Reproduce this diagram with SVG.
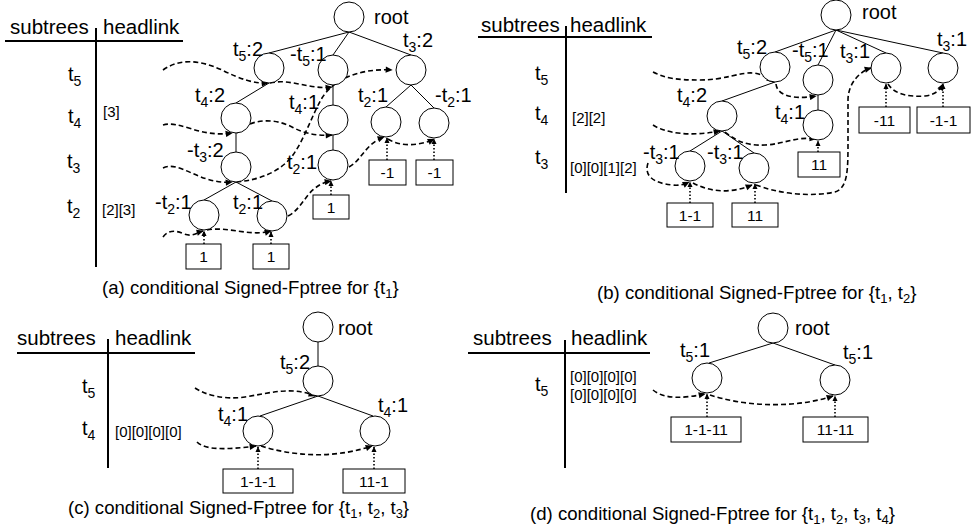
<svg xmlns="http://www.w3.org/2000/svg" width="973" height="532" viewBox="0 0 973 532">
  <style>
    text { font-family: "Liberation Sans", Arial, sans-serif; fill: #000; }
    .hdr { font-size: 20.5px; }
    .lbl { font-size: 20px; }
    .sub { font-size: 14px; }
    .hl { font-size: 15px; }
    .cap { font-size: 18.6px; }
    .csub { font-size: 13px; }
    .bx { font-size: 15.5px; text-anchor: middle; }
    .node circle { fill: #fff; stroke: #000; stroke-width: 1; }
    .box rect { fill: #fff; stroke: #000; stroke-width: 1; }
    .rule { stroke: #000; stroke-width: 2; fill: none; }
    .edge { stroke: #000; stroke-width: 1; fill: none; }
    .link { stroke: #000; stroke-width: 1.6; fill: none; stroke-dasharray: 5 3; marker-end: url(#ah); }
    .ptr { stroke: #000; stroke-width: 1.6; fill: none; stroke-dasharray: 1.5 2; marker-end: url(#ahs); }
  </style>
  <defs>
    <marker id="ah" viewBox="0 0 10 10" refX="9" refY="5" markerWidth="8" markerHeight="7" markerUnits="userSpaceOnUse" orient="auto">
      <path d="M0,0.5 L10,5 L0,9.5 z" fill="#000" stroke="none"/>
    </marker>
    <marker id="ahs" viewBox="0 0 10 10" refX="9" refY="5" markerWidth="6" markerHeight="6" markerUnits="userSpaceOnUse" orient="auto">
      <path d="M0,0.5 L10,5 L0,9.5 z" fill="#000" stroke="none"/>
    </marker>
  </defs>

  <!-- ===== (a) header table ===== -->
  <g id="table-a">
    <text class="hdr" x="10" y="34">subtrees</text>
    <text class="hdr" x="103" y="34">headlink</text>
    <line class="rule" x1="5" y1="41" x2="183" y2="41"/>
    <line class="rule" x1="96" y1="28" x2="96" y2="267"/>
    <text class="lbl" x="68" y="81">t<tspan class="sub" dy="5">5</tspan></text>
    <text class="lbl" x="68" y="123">t<tspan class="sub" dy="5">4</tspan></text>
    <text class="hl" x="103" y="117">[3]</text>
    <text class="lbl" x="67" y="168">t<tspan class="sub" dy="5">3</tspan></text>
    <text class="lbl" x="67" y="213">t<tspan class="sub" dy="5">2</tspan></text>
    <text class="hl" x="102" y="215">[2][3]</text>
    <text class="cap" x="102" y="294">(a) conditional Signed-Fptree for {t<tspan class="csub" dy="4">1</tspan><tspan dy="-4">}</tspan></text>
  </g>

  <!-- ===== (b) header table ===== -->
  <g id="table-b">
    <text class="hdr" x="481" y="32">subtrees</text>
    <text class="hdr" x="570" y="32">headlink</text>
    <line class="rule" x1="478" y1="37" x2="652" y2="37"/>
    <line class="rule" x1="566" y1="26" x2="566" y2="193"/>
    <text class="lbl" x="535" y="80">t<tspan class="sub" dy="5">5</tspan></text>
    <text class="lbl" x="535" y="120">t<tspan class="sub" dy="5">4</tspan></text>
    <text class="hl" x="572" y="123">[2][2]</text>
    <text class="lbl" x="535" y="164">t<tspan class="sub" dy="5">3</tspan></text>
    <text class="hl" x="570" y="173">[0][0][1][2]</text>
    <text class="cap" x="597" y="299">(b) conditional Signed-Fptree for {t<tspan class="csub" dy="4">1</tspan><tspan dy="-4">, t</tspan><tspan class="csub" dy="4">2</tspan><tspan dy="-4">}</tspan></text>
  </g>

  <!-- ===== (c) header table ===== -->
  <g id="table-c">
    <text class="hdr" x="17" y="345">subtrees</text>
    <text class="hdr" x="115" y="345">headlink</text>
    <line class="rule" x1="17" y1="353" x2="195" y2="353"/>
    <line class="rule" x1="108" y1="339" x2="108" y2="468"/>
    <text class="lbl" x="82" y="393">t<tspan class="sub" dy="5">5</tspan></text>
    <text class="lbl" x="82" y="435">t<tspan class="sub" dy="5">4</tspan></text>
    <text class="hl" x="115" y="437">[0][0][0][0]</text>
    <text class="cap" x="68" y="514">(c) conditional Signed-Fptree for {t<tspan class="csub" dy="4">1</tspan><tspan dy="-4">, t</tspan><tspan class="csub" dy="4">2</tspan><tspan dy="-4">, t</tspan><tspan class="csub" dy="4">3</tspan><tspan dy="-4">}</tspan></text>
  </g>

  <!-- ===== (d) header table ===== -->
  <g id="table-d">
    <text class="hdr" x="473" y="345">subtrees</text>
    <text class="hdr" x="571" y="345">headlink</text>
    <line class="rule" x1="468" y1="353" x2="650" y2="353"/>
    <line class="rule" x1="565" y1="340" x2="565" y2="468"/>
    <text class="lbl" x="535" y="391">t<tspan class="sub" dy="5">5</tspan></text>
    <text class="hl" x="570" y="382">[0][0][0][0]</text>
    <text class="hl" x="570" y="400">[0][0][0][0]</text>
    <text class="cap" x="530" y="520">(d) conditional Signed-Fptree for {t<tspan class="csub" dy="4">1</tspan><tspan dy="-4">, t</tspan><tspan class="csub" dy="4">2</tspan><tspan dy="-4">, t</tspan><tspan class="csub" dy="4">3</tspan><tspan dy="-4">, t</tspan><tspan class="csub" dy="4">4</tspan><tspan dy="-4">}</tspan></text>
  </g>

  <!-- ===== connectors ===== -->
  <g id="connectors">
    <!-- (a) tree edges -->
    <line class="edge" x1="349" y1="32" x2="269" y2="53"/>
    <line class="edge" x1="349" y1="32" x2="333" y2="55"/>
    <line class="edge" x1="349" y1="32" x2="411" y2="55"/>
    <line class="edge" x1="269" y1="83" x2="236" y2="103"/>
    <line class="edge" x1="236" y1="133" x2="236" y2="152"/>
    <line class="edge" x1="236" y1="182" x2="204" y2="200"/>
    <line class="edge" x1="236" y1="182" x2="272" y2="201"/>
    <line class="edge" x1="333" y1="85" x2="333" y2="105"/>
    <line class="edge" x1="333" y1="135" x2="333" y2="150"/>
    <line class="edge" x1="411" y1="85" x2="386" y2="107"/>
    <line class="edge" x1="411" y1="85" x2="434" y2="108"/>
    <!-- (a) head links -->
    <path class="link" d="M163,70 C180,58 200,60 222,70 C240,79 255,84 268,83"/>
    <path class="link" d="M270,83 C290,78 310,90 332,87"/>
    <path class="link" d="M163,125 C180,120 200,138 232,133"/>
    <path class="link" d="M237,133 C250,118 275,118 292,127 C305,134 318,136 332,135"/>
    <path class="link" d="M163,168 C180,160 200,185 232,182"/>
    <path class="link" d="M236,182 C262,180 282,170 293,155 C305,138 312,115 322,98 C332,82 355,68 392,70"/>
    <path class="link" d="M163,237 C168,230 176,230 184,234 C192,237 196,233 203,231"/>
    <path class="link" d="M207,230 C228,226 250,237 271,231"/>
    <path class="link" d="M288,216 C300,210 305,196 314,189 C320,184 325,182 331,181"/>
    <path class="link" d="M349,167 C362,160 365,144 384,137"/>
    <path class="link" d="M388,139 C400,147 420,146 434,139"/>
    <!-- (a) pointers from leaf boxes -->
    <line class="ptr" x1="204" y1="244" x2="204" y2="231"/>
    <line class="ptr" x1="271" y1="244" x2="271" y2="232"/>
    <line class="ptr" x1="331" y1="195" x2="331" y2="181"/>
    <line class="ptr" x1="387" y1="160" x2="387" y2="138"/>
    <line class="ptr" x1="434" y1="160" x2="434" y2="139"/>

    <!-- (b) tree edges -->
    <line class="edge" x1="836" y1="30" x2="775" y2="52"/>
    <line class="edge" x1="836" y1="30" x2="818" y2="65"/>
    <line class="edge" x1="836" y1="30" x2="886" y2="53"/>
    <line class="edge" x1="836" y1="30" x2="943" y2="53"/>
    <line class="edge" x1="775" y1="82" x2="722" y2="101"/>
    <line class="edge" x1="818" y1="95" x2="818" y2="110"/>
    <line class="edge" x1="722" y1="131" x2="690" y2="151"/>
    <line class="edge" x1="722" y1="131" x2="754" y2="153"/>
    <!-- (b) head links -->
    <path class="link" d="M653,72 C665,78 675,80 700,80 C725,80 740,72 753,73 C762,74 768,78 773,82"/>
    <path class="link" d="M776,84 C777,95 792,100 816,96"/>
    <path class="link" d="M653,125 C665,133 690,137 720,131"/>
    <path class="link" d="M725,132 C735,140 745,146 765,145 C785,144 796,136 816,139"/>
    <path class="link" d="M648,163 C644,175 652,183 672,185 C680,186 685,184 689,182"/>
    <path class="link" d="M693,183 C710,192 730,194 752,185"/>
    <path class="link" d="M756,185 C775,192 805,198 835,192 C848,188 848,170 848,140 L848,100 C848,85 858,72 871,68"/>
    <path class="link" d="M888,84 C895,95 910,97 925,96 C935,95 940,90 943,84"/>
    <!-- (b) pointers from leaf boxes -->
    <line class="ptr" x1="886" y1="107" x2="886" y2="84"/>
    <line class="ptr" x1="943" y1="107" x2="943" y2="84"/>
    <line class="ptr" x1="818" y1="152" x2="818" y2="141"/>
    <line class="ptr" x1="690" y1="203" x2="690" y2="182"/>
    <line class="ptr" x1="755" y1="203" x2="755" y2="184"/>

    <!-- (c) tree edges -->
    <line class="edge" x1="318" y1="342" x2="318" y2="366"/>
    <line class="edge" x1="318" y1="396" x2="260" y2="416"/>
    <line class="edge" x1="318" y1="396" x2="373" y2="416"/>
    <!-- (c) head links -->
    <path class="link" d="M195,388 C205,395 225,400 245,397 C270,393 292,386 315,396"/>
    <path class="link" d="M197,442 C205,450 225,450 256,446"/>
    <path class="link" d="M261,446 C290,455 330,460 372,446"/>
    <!-- (c) pointers from leaf boxes -->
    <line class="ptr" x1="258" y1="469" x2="258" y2="447"/>
    <line class="ptr" x1="374" y1="469" x2="374" y2="447"/>

    <!-- (d) tree edges -->
    <line class="edge" x1="773" y1="343" x2="709" y2="363"/>
    <line class="edge" x1="773" y1="343" x2="835" y2="365"/>
    <!-- (d) head links -->
    <path class="link" d="M653,390 C665,400 685,398 705,394"/>
    <path class="link" d="M710,395 C740,405 790,410 833,396"/>
    <!-- (d) pointers from leaf boxes -->
    <line class="ptr" x1="707" y1="417" x2="707" y2="394"/>
    <line class="ptr" x1="835" y1="417" x2="835" y2="396"/>
  </g>

  <!-- ===== (a) tree nodes ===== -->
  <g id="a-root" class="node"><circle cx="349" cy="17" r="15"/><text class="lbl" x="374" y="24">root</text></g>
  <g id="a-t5-2" class="node"><circle cx="269" cy="68" r="15"/><text class="lbl" x="233" y="56">t<tspan class="sub" dy="5">5</tspan><tspan dy="-5">:2</tspan></text></g>
  <g id="a-nt5-1" class="node"><circle cx="333" cy="70" r="15"/><text class="lbl" x="290" y="61">-t<tspan class="sub" dy="5">5</tspan><tspan dy="-5">:1</tspan></text></g>
  <g id="a-t3-2" class="node"><circle cx="411" cy="70" r="15"/><text class="lbl" x="403" y="47">t<tspan class="sub" dy="5">3</tspan><tspan dy="-5">:2</tspan></text></g>
  <g id="a-t4-2" class="node"><circle cx="236" cy="118" r="15"/><text class="lbl" x="195" y="102">t<tspan class="sub" dy="5">4</tspan><tspan dy="-5">:2</tspan></text></g>
  <g id="a-t4-1" class="node"><circle cx="333" cy="120" r="15"/><text class="lbl" x="289" y="109">t<tspan class="sub" dy="5">4</tspan><tspan dy="-5">:1</tspan></text></g>
  <g id="a-t2-1r" class="node"><circle cx="386" cy="122" r="15"/><text class="lbl" x="358" y="102">t<tspan class="sub" dy="5">2</tspan><tspan dy="-5">:1</tspan></text></g>
  <g id="a-nt2-1r" class="node"><circle cx="434" cy="123" r="15"/><text class="lbl" x="435" y="102">-t<tspan class="sub" dy="5">2</tspan><tspan dy="-5">:1</tspan></text></g>
  <g id="a-nt3-2" class="node"><circle cx="236" cy="167" r="15"/><text class="lbl" x="187" y="157">-t<tspan class="sub" dy="5">3</tspan><tspan dy="-5">:2</tspan></text></g>
  <g id="a-t2-1m" class="node"><circle cx="333" cy="165" r="15"/><text class="lbl" x="287" y="169">t<tspan class="sub" dy="5">2</tspan><tspan dy="-5">:1</tspan></text></g>
  <g id="a-nt2-1l" class="node"><circle cx="204" cy="215" r="15"/><text class="lbl" x="155" y="209">-t<tspan class="sub" dy="5">2</tspan><tspan dy="-5">:1</tspan></text></g>
  <g id="a-t2-1l" class="node"><circle cx="272" cy="216" r="15"/><text class="lbl" x="233" y="209">t<tspan class="sub" dy="5">2</tspan><tspan dy="-5">:1</tspan></text></g>
  <!-- (a) leaf boxes -->
  <g id="a-box1" class="box"><rect x="186" y="244" width="35" height="25"/><text class="bx" x="203.5" y="262">1</text></g>
  <g id="a-box2" class="box"><rect x="253" y="244" width="36" height="25"/><text class="bx" x="271" y="262">1</text></g>
  <g id="a-box3" class="box"><rect x="313" y="195" width="36" height="24"/><text class="bx" x="331" y="213">1</text></g>
  <g id="a-box4" class="box"><rect x="369" y="160" width="37" height="25"/><text class="bx" x="387.5" y="178">-1</text></g>
  <g id="a-box5" class="box"><rect x="416" y="160" width="37" height="25"/><text class="bx" x="434.5" y="178">-1</text></g>

  <!-- ===== (b) tree nodes ===== -->
  <g id="b-root" class="node"><circle cx="836" cy="15" r="15"/><text class="lbl" x="862" y="19">root</text></g>
  <g id="b-t5-2" class="node"><circle cx="775" cy="67" r="15"/><text class="lbl" x="737" y="54">t<tspan class="sub" dy="5">5</tspan><tspan dy="-5">:2</tspan></text></g>
  <g id="b-nt5-1" class="node"><circle cx="818" cy="80" r="15"/><text class="lbl" x="792" y="57">-t<tspan class="sub" dy="5">5</tspan><tspan dy="-5">:1</tspan></text></g>
  <g id="b-t3-1l" class="node"><circle cx="886" cy="68" r="15"/><text class="lbl" x="840" y="58">t<tspan class="sub" dy="5">3</tspan><tspan dy="-5">:1</tspan></text></g>
  <g id="b-t3-1r" class="node"><circle cx="943" cy="68" r="15"/><text class="lbl" x="937" y="46">t<tspan class="sub" dy="5">3</tspan><tspan dy="-5">:1</tspan></text></g>
  <g id="b-t4-2" class="node"><circle cx="722" cy="116" r="15"/><text class="lbl" x="677" y="102">t<tspan class="sub" dy="5">4</tspan><tspan dy="-5">:2</tspan></text></g>
  <g id="b-t4-1" class="node"><circle cx="818" cy="125" r="15"/><text class="lbl" x="775" y="119">t<tspan class="sub" dy="5">4</tspan><tspan dy="-5">:1</tspan></text></g>
  <g id="b-nt3-1l" class="node"><circle cx="690" cy="166" r="15"/><text class="lbl" x="643" y="159">-t<tspan class="sub" dy="5">3</tspan><tspan dy="-5">:1</tspan></text></g>
  <g id="b-nt3-1r" class="node"><circle cx="754" cy="168" r="15"/><text class="lbl" x="707" y="159">-t<tspan class="sub" dy="5">3</tspan><tspan dy="-5">:1</tspan></text></g>
  <!-- (b) leaf boxes -->
  <g id="b-box1" class="box"><rect x="859" y="107" width="51" height="26"/><text class="bx" x="884.5" y="125.5">-11</text></g>
  <g id="b-box2" class="box"><rect x="917" y="107" width="53" height="26"/><text class="bx" x="943.5" y="125.5">-1-1</text></g>
  <g id="b-box3" class="box"><rect x="798" y="152" width="42" height="25"/><text class="bx" x="819" y="170">11</text></g>
  <g id="b-box4" class="box"><rect x="667" y="203" width="46" height="24"/><text class="bx" x="690" y="221">1-1</text></g>
  <g id="b-box5" class="box"><rect x="732" y="203" width="46" height="24"/><text class="bx" x="755" y="221">11</text></g>

  <!-- ===== (c) tree nodes ===== -->
  <g id="c-root" class="node"><circle cx="318" cy="327" r="15"/><text class="lbl" x="338" y="335">root</text></g>
  <g id="c-t5-2" class="node"><circle cx="318" cy="381" r="15"/><text class="lbl" x="280" y="369">t<tspan class="sub" dy="5">5</tspan><tspan dy="-5">:2</tspan></text></g>
  <g id="c-t4-1l" class="node"><circle cx="258" cy="431" r="15"/><text class="lbl" x="218" y="421">t<tspan class="sub" dy="5">4</tspan><tspan dy="-5">:1</tspan></text></g>
  <g id="c-t4-1r" class="node"><circle cx="375" cy="431" r="15"/><text class="lbl" x="378" y="412">t<tspan class="sub" dy="5">4</tspan><tspan dy="-5">:1</tspan></text></g>
  <!-- (c) leaf boxes -->
  <g id="c-box1" class="box"><rect x="223" y="469" width="70" height="24"/><text class="bx" x="258" y="487">1-1-1</text></g>
  <g id="c-box2" class="box"><rect x="343" y="469" width="62" height="24"/><text class="bx" x="374" y="487">11-1</text></g>

  <!-- ===== (d) tree nodes ===== -->
  <g id="d-root" class="node"><circle cx="773" cy="328" r="15"/><text class="lbl" x="795" y="335">root</text></g>
  <g id="d-t5-1l" class="node"><circle cx="707" cy="378" r="15"/><text class="lbl" x="680" y="357">t<tspan class="sub" dy="5">5</tspan><tspan dy="-5">:1</tspan></text></g>
  <g id="d-t5-1r" class="node"><circle cx="835" cy="380" r="15"/><text class="lbl" x="843" y="359">t<tspan class="sub" dy="5">5</tspan><tspan dy="-5">:1</tspan></text></g>
  <!-- (d) leaf boxes -->
  <g id="d-box1" class="box"><rect x="671" y="417" width="70" height="25"/><text class="bx" x="706" y="435">1-1-11</text></g>
  <g id="d-box2" class="box"><rect x="803" y="417" width="65" height="25"/><text class="bx" x="835.5" y="435">11-11</text></g>
</svg>
